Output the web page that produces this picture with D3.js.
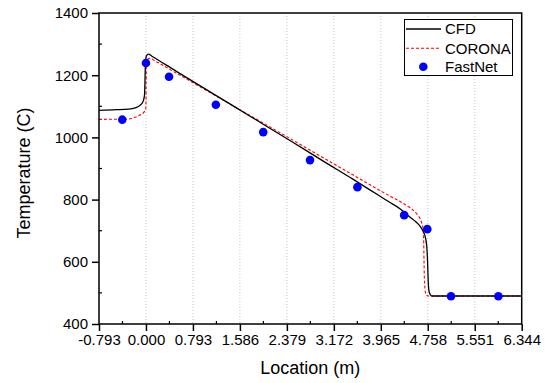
<!DOCTYPE html>
<html><head><meta charset="utf-8">
<script src="https://cdn.jsdelivr.net/npm/d3@7"></script>
<style>
html,body{margin:0;padding:0;background:#fff;}
text{font-family:"Liberation Sans",Arial,sans-serif;fill:#000;}
</style></head>
<body>
<svg id="chart" width="547" height="383"></svg>
<script>
// ---- data ----
const xTickValues = [-0.793, 0.000, 0.793, 1.586, 2.379, 3.172, 3.965, 4.758, 5.551, 6.344];
const xTickLabels = ["-0.793","0.000","0.793","1.586","2.379","3.172","3.965","4.758","5.551","6.344"];
const yTickValues = [400, 600, 800, 1000, 1200, 1400];
const yMinorValues = [500, 700, 900, 1100, 1300];

const cfdX = [-0.793, -0.5, -0.3, -0.185, -0.1, -0.05, -0.025, -0.018, -0.012, -0.005, 0.01, 0.039, 0.1, 0.5, 1.0, 1.5, 2.0, 2.5, 3.0, 3.5, 3.9, 4.1, 4.3, 4.36, 4.46, 4.56, 4.63, 4.68, 4.71, 4.74, 4.755, 4.765, 4.78, 4.8, 4.83, 6.344];
const cfdT = [1087, 1089, 1091, 1095, 1103, 1115, 1135, 1170, 1220, 1250, 1263, 1268, 1261, 1214, 1156, 1098, 1040, 982, 923, 865, 817, 793, 769, 759, 743, 728, 714, 698, 684, 651, 600, 540, 505, 495, 490, 490];

const coronaX = [-0.793, -0.3, -0.24, -0.1, -0.03, -0.005, 0.0, 0.003, 0.006, 0.012, 0.035, 0.07, 0.15, 0.5, 1.0, 1.5, 2.0, 2.5, 3.0, 3.5, 4.0, 4.4, 4.5, 4.58, 4.63, 4.66, 4.68, 4.69, 4.695, 4.70, 4.72, 4.76, 4.8, 6.344];
const coronaT = [1058, 1059, 1061, 1072, 1082, 1090, 1110, 1180, 1230, 1245, 1252, 1254, 1246, 1208, 1153, 1098, 1044, 989, 934, 879, 824, 781, 768, 752, 738, 722, 705, 660, 600, 550, 500, 490, 490, 490];

const fastX = [-0.40, 0.0, 0.39, 1.18, 1.98, 2.77, 3.57, 4.36, 4.75, 5.15, 5.95];
const fastT = [1057, 1239, 1195, 1105, 1017, 927, 840, 750, 705, 489, 489];

const seriesNames = ["CFD", "CORONA", "FastNet"];

// ---- layout ----
const svg = d3.select("#chart");
const L = 99, R = 521.7, T = 13, B = 324;
const x = d3.scaleLinear().domain([-0.793, 6.344]).range([L, R]);
const y = d3.scaleLinear().domain([400, 1400]).range([B, T]);

// grid
svg.append("g").selectAll("line").data(xTickValues.slice(1, -1)).join("line")
  .attr("x1", d => x(d)).attr("x2", d => x(d)).attr("y1", T).attr("y2", B)
  .attr("stroke", "#c8c8c8").attr("stroke-width", 1).attr("stroke-dasharray", "1,2");

// lines
const line = d3.line().x(d => x(d[0])).y(d => y(d[1])).curve(d3.curveMonotoneX);
svg.append("path").datum(d3.zip(coronaX, coronaT)).attr("d", line)
  .attr("fill", "none").attr("stroke", "#ff0000").attr("stroke-width", 1.1).attr("stroke-dasharray", "3,2");
svg.append("path").datum(d3.zip(cfdX, cfdT)).attr("d", line)
  .attr("fill", "none").attr("stroke", "#000").attr("stroke-width", 1.3);
svg.append("g").selectAll("circle").data(d3.zip(fastX, fastT)).join("circle")
  .attr("cx", d => x(d[0])).attr("cy", d => y(d[1])).attr("r", 4.3).attr("fill", "#0000ff");

// axes
const xAxis = d3.axisBottom(x).tickValues(xTickValues).tickFormat((d, i) => xTickLabels[i]).tickSizeOuter(0).tickSizeInner(7).tickPadding(3);
const gx = svg.append("g").attr("transform", `translate(0,${B})`).call(xAxis);
const yAxis = d3.axisLeft(y).tickValues(yTickValues).tickFormat(d3.format("d")).tickSizeOuter(0).tickSizeInner(7).tickPadding(4);
const gy = svg.append("g").attr("transform", `translate(${L},0)`).call(yAxis);
[gx, gy].forEach(g => {
  g.select(".domain").remove();
  g.selectAll("line").attr("stroke", "#000").attr("stroke-width", 1.5);
  g.selectAll("text").style("font-size", "15px").style("font-family", '"Liberation Sans",Arial,sans-serif').attr("fill", "#000");
});
// minor ticks
const xMinor = xTickValues.slice(0, -1).map((v, i) => (v + xTickValues[i + 1]) / 2);
svg.append("g").selectAll("line").data(xMinor).join("line")
  .attr("x1", d => x(d)).attr("x2", d => x(d)).attr("y1", B).attr("y2", B - 3)
  .attr("stroke", "#000").attr("stroke-width", 1.2);
svg.append("g").selectAll("line").data(yMinorValues).join("line")
  .attr("x1", L).attr("x2", L + 3).attr("y1", d => y(d)).attr("y2", d => y(d))
  .attr("stroke", "#000").attr("stroke-width", 1.2);

// frame
svg.append("rect").attr("x", L).attr("y", T).attr("width", R - L).attr("height", B - T)
  .attr("fill", "none").attr("stroke", "#000").attr("stroke-width", 1.5);

// titles
svg.append("text").attr("x", (L + R) / 2).attr("y", 374).attr("text-anchor", "middle")
  .style("font-size", "18px").text("Location (m)");
svg.append("text").attr("transform", "translate(30,173) rotate(-90)").attr("text-anchor", "middle")
  .style("font-size", "18px").text("Temperature (C)");

// legend
const lg = svg.append("g");
lg.append("rect").attr("x", 404.5).attr("y", 19.5).attr("width", 108).attr("height", 56)
  .attr("fill", "#fff").attr("stroke", "#000").attr("stroke-width", 1);
const rows = [29, 48.3, 66.7];
lg.append("line").attr("x1", 406).attr("x2", 441).attr("y1", rows[0]).attr("y2", rows[0])
  .attr("stroke", "#000").attr("stroke-width", 1.3);
lg.append("line").attr("x1", 406).attr("x2", 441).attr("y1", rows[1]).attr("y2", rows[1])
  .attr("stroke", "#ff0000").attr("stroke-width", 1.1).attr("stroke-dasharray", "3,2");
lg.append("circle").attr("cx", 423.3).attr("cy", rows[2]).attr("r", 4.3).attr("fill", "#0000ff");
lg.selectAll("text.lab").data(seriesNames).join("text").attr("class", "lab")
  .attr("x", 445).attr("y", (d, i) => rows[i] + 5.4).style("font-size", "15px").text(d => d);
</script>
</body></html>
